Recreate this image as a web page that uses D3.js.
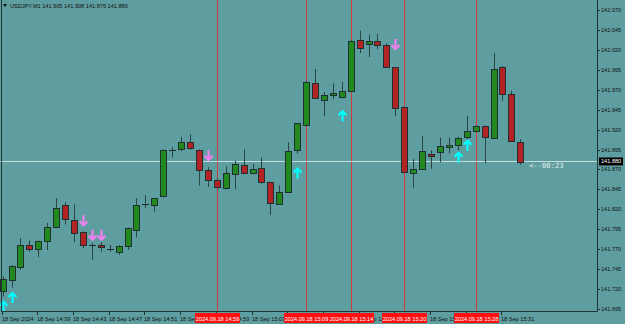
<!DOCTYPE html>
<html lang="en">
<head>
<meta charset="UTF-8">
<script src="https://d3js.org/d3.v7.min.js"></script>
<style>
  body { margin: 0; background: #5F9EA0; }
  svg { display: block; font-family: "Liberation Sans", Arial, sans-serif; }
</style>
</head>
<body>
<div id="chart"></div>
<script>
// USDJPY M1, 18 Sep 2024, 14:35 .. 15:33
const opens  = [141.717,141.732,141.748,141.775,141.770,141.780,141.798,141.826,141.807,141.791,
                141.775,141.775,141.770,141.766,141.774,141.795,141.827,141.825,141.836,141.894,
                141.895,141.904,141.895,141.869,141.857,141.847,141.864,141.876,141.865,141.872,
                141.854,141.827,141.842,141.894,141.926,141.979,141.957,141.964,141.961,141.968,
                142.033,142.027,142.031,142.026,141.998,141.948,141.866,141.870,141.890,141.891,
                141.899,141.900,141.910,141.918,141.925,141.910,141.998,141.965,141.905];
const highs  = [141.736,141.750,141.784,141.781,141.781,141.803,141.834,141.829,141.826,141.792,
                141.778,141.779,141.775,141.775,141.797,141.834,141.838,141.834,141.895,141.898,
                141.911,141.914,141.895,141.873,141.859,141.874,141.881,141.895,141.877,141.885,
                141.854,141.850,141.904,141.928,141.981,141.996,141.967,141.978,141.980,142.032,
                142.044,142.039,142.040,142.028,141.998,141.949,141.883,141.912,141.894,141.910,
                141.910,141.911,141.937,141.925,141.925,142.016,142.000,141.969,141.908];
const lows   = [141.711,141.722,141.744,141.767,141.760,141.769,141.797,141.801,141.779,141.771,
                141.757,141.767,141.767,141.763,141.769,141.785,141.822,141.817,141.835,141.885,
                141.893,141.895,141.850,141.848,141.846,141.845,141.845,141.864,141.864,141.852,
                141.813,141.827,141.841,141.890,141.926,141.960,141.937,141.958,141.959,141.967,
                142.016,142.011,142.021,141.998,141.937,141.866,141.847,141.869,141.871,141.879,
                141.890,141.894,141.907,141.918,141.878,141.910,141.956,141.906,141.876];
const closes = [141.732,141.749,141.775,141.770,141.780,141.798,141.822,141.808,141.791,141.775,
                141.775,141.772,141.770,141.774,141.796,141.826,141.827,141.834,141.894,141.893,
                141.904,141.896,141.870,141.857,141.848,141.866,141.877,141.866,141.870,141.854,
                141.828,141.842,141.893,141.928,141.980,141.960,141.963,141.966,141.968,142.031,
                142.023,142.031,142.026,141.998,141.947,141.866,141.871,141.893,141.888,141.899,
                141.901,141.909,141.918,141.924,141.911,141.996,141.964,141.906,141.880];

const priceTicks = [142.070,142.045,142.020,141.995,141.970,141.945,141.920,141.895,
                    141.870,141.845,141.820,141.795,141.770,141.745,141.720,141.695];

// time axis: bar index + label
const timeTickBars = [0,4,8,12,16,20,24,28,32,36,40,44,48,52,56];
const timeTickLabels = ["18 Sep 2024","18 Sep 14:39","18 Sep 14:43","18 Sep 14:47","18 Sep 14:51",
                        "18 Sep 14:55","18 Sep 14:59","18 Sep 15:03","18 Sep 15:07","18 Sep 15:11",
                        "18 Sep 15:15","18 Sep 15:19","18 Sep 15:23","18 Sep 15:27","18 Sep 15:31"];

// vertical red marker lines
const markerBars = [24,34,39,45,53];
const markerLabels = ["2024.09.18 14:59","2024.09.18 15:09","2024.09.18 15:14","2024.09.18 15:20","2024.09.18 15:28"];

// signal arrows: bar index + price of the tip
const upBars = [0,1,33,38,51,52];
const upPrices = [141.704,141.715,141.871,141.943,141.891,141.906];
const downBars = [9,10,11,23,44];
const downPrices = [141.800,141.782,141.782,141.882,142.021];

const lastPrice = 141.880;

const W = 625, H = 324;
const plotRight = 597, plotBottom = 311;

const svg = d3.select("#chart").append("svg")
    .attr("width", W).attr("height", H);

svg.append("rect").attr("width", W).attr("height", H).attr("fill", "#5F9EA0");

const x = d3.scaleLinear().domain([0, 58]).range([2.6, 520.3]);
const y = d3.scaleLinear().domain([141.695, 142.070]).range([309, 10]);

const plot = svg.append("g");

// marker lines
plot.selectAll(".vline").data(markerBars).enter().append("line")
    .attr("x1", d => Math.round(x(d)) + 0.5).attr("x2", d => Math.round(x(d)) + 0.5)
    .attr("y1", 0).attr("y2", plotBottom)
    .attr("stroke", "#d03a3a").attr("stroke-width", 1);

// last price line
plot.append("line")
    .attr("x1", 0).attr("x2", plotRight)
    .attr("y1", Math.round(y(lastPrice)) + 0.5).attr("y2", Math.round(y(lastPrice)) + 0.5)
    .attr("stroke", "#c9dcdc").attr("stroke-width", 1);

// candles
const bars = d3.range(opens.length);
const candle = plot.selectAll(".c").data(bars).enter().append("g").attr("class", "c");

candle.append("line")
    .attr("x1", i => Math.round(x(i)) + 0.5).attr("x2", i => Math.round(x(i)) + 0.5)
    .attr("y1", i => y(highs[i])).attr("y2", i => y(lows[i]))
    .attr("stroke", "#2a4444").attr("stroke-width", 1);

candle.each(function(i) {
  const g = d3.select(this);
  const cx = Math.round(x(i));
  const top = y(Math.max(opens[i], closes[i]));
  const bot = y(Math.min(opens[i], closes[i]));
  if (bot - top < 1) {
    g.append("line")
      .attr("x1", cx - 3).attr("x2", cx + 4)
      .attr("y1", Math.round(top) + 0.5).attr("y2", Math.round(top) + 0.5)
      .attr("stroke", "#1a2a2a").attr("stroke-width", 1);
  } else {
    g.append("rect")
      .attr("x", cx - 2.5).attr("y", Math.round(top) + 0.5)
      .attr("width", 6).attr("height", Math.max(1, Math.round(bot - top)))
      .attr("fill", closes[i] >= opens[i] ? "#22891f" : "#b42323")
      .attr("stroke", "#1f3030").attr("stroke-width", 1);
  }
});

// arrows
function upArrow(cx, ty) {
  return `M${cx},${ty} L${cx},${ty + 10} M${cx - 4},${ty + 4} L${cx},${ty} L${cx + 4},${ty + 4}`;
}
function downArrow(cx, ty) {
  return `M${cx},${ty} L${cx},${ty - 10} M${cx - 4},${ty - 4} L${cx},${ty} L${cx + 4},${ty - 4}`;
}
plot.selectAll(".up").data(upBars).enter().append("path")
    .attr("d", (b, k) => upArrow(Math.round(x(b)) + 0.5, y(upPrices[k])))
    .attr("fill", "none").attr("stroke", "#00ffff").attr("stroke-width", 2.2);
plot.selectAll(".dn").data(downBars).enter().append("path")
    .attr("d", (b, k) => downArrow(Math.round(x(b)) + 0.5, y(downPrices[k])))
    .attr("fill", "none").attr("stroke", "#ee82ee").attr("stroke-width", 2.2);

// countdown text
svg.append("text")
    .attr("x", 529).attr("y", 168)
    .attr("font-family", "DejaVu Sans Mono, monospace").attr("font-size", 7.2)
    .attr("fill", "#e6eeee").text("<--00:23");

// frame
svg.append("path")
    .attr("d", `M1.5,0 L1.5,${plotBottom + 0.5} L${plotRight + 0.5},${plotBottom + 0.5} L${plotRight + 0.5},0`)
    .attr("fill", "none").attr("stroke", "#1f3434").attr("stroke-width", 1);

// price axis
const pa = svg.append("g");
pa.selectAll("line").data(priceTicks).enter().append("line")
    .attr("x1", plotRight).attr("x2", plotRight + 3)
    .attr("y1", d => Math.round(y(d)) + 0.5).attr("y2", d => Math.round(y(d)) + 0.5)
    .attr("stroke", "#1f3434");
pa.selectAll("text").data(priceTicks).enter().append("text")
    .attr("x", 601).attr("y", d => y(d) + 2)
    .attr("font-size", 5.6).attr("fill", "#111")
    .text(d => d.toFixed(3));

// current price box
const ly = y(lastPrice);
svg.append("rect").attr("x", 599).attr("y", ly - 4).attr("width", 24).attr("height", 8).attr("fill", "#000");
svg.append("text").attr("x", 601).attr("y", ly + 2)
    .attr("font-size", 5.6).attr("fill", "#fff").text(lastPrice.toFixed(3));

// time axis
const ta = svg.append("g");
ta.selectAll("line").data(timeTickBars).enter().append("line")
    .attr("x1", b => Math.round(x(b)) - 0.5).attr("x2", b => Math.round(x(b)) - 0.5)
    .attr("y1", plotBottom).attr("y2", plotBottom + 4)
    .attr("stroke", "#1f3434");
ta.selectAll("text").data(timeTickBars).enter().append("text")
    .attr("x", b => Math.round(x(b)) - 1).attr("y", 320.5)
    .attr("font-size", 5.6).attr("fill", "#111")
    .text((b, k) => timeTickLabels[k]);

// red marker labels on the time axis
const ml = svg.append("g");
ml.selectAll("rect").data(markerBars).enter().append("rect")
    .attr("x", b => Math.round(x(b)) - 22).attr("y", 313)
    .attr("width", 45).attr("height", 10).attr("fill", "#ff1010");
ml.selectAll("text").data(markerBars).enter().append("text")
    .attr("x", b => Math.round(x(b)) + 0.5).attr("y", 320.5)
    .attr("text-anchor", "middle")
    .attr("font-size", 5.6).attr("fill", "#fff")
    .text((b, k) => markerLabels[k]);

// header
svg.append("path").attr("d", "M3,4 L7,4 L5,7 Z").attr("fill", "#111");
svg.append("text").attr("x", 10).attr("y", 8)
    .attr("font-size", 5.6).attr("fill", "#111")
    .text("USDJPY,M1  141.905 141.908 141.876 141.880");
</script>
</body>
</html>
